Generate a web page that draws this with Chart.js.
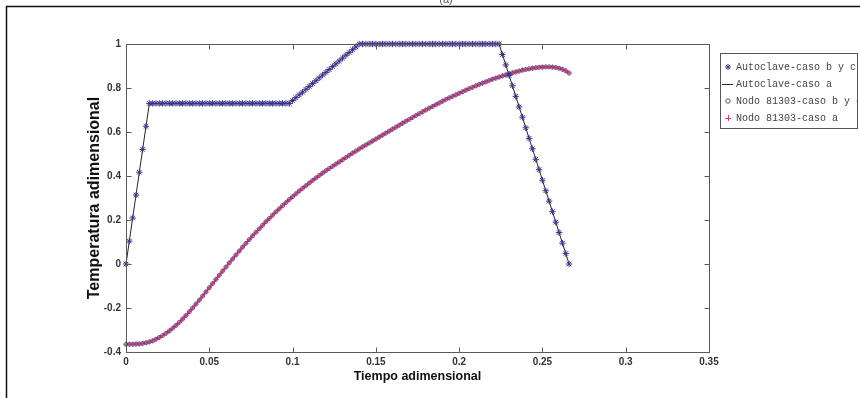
<!DOCTYPE html>
<html>
<head>
<meta charset="utf-8">
<script src="https://cdn.jsdelivr.net/npm/chart.js@4.4.1/dist/chart.umd.min.js"></script>
<style>
  html, body { margin: 0; padding: 0; background: #fff; }
  #wrap { width: 860px; height: 398px; position: relative; }
</style>
</head>
<body>
<div id="wrap"><canvas id="c" width="860" height="398"></canvas></div>
<script>
// Dimensionless time of each sample
const timeSteps = [
  0, 0.002, 0.004, 0.006, 0.008, 0.01, 0.012, 0.014, 0.016, 0.018,
  0.02, 0.022, 0.024, 0.026, 0.028, 0.03, 0.032, 0.034, 0.036, 0.038,
  0.04, 0.042, 0.044, 0.046, 0.048, 0.05, 0.052, 0.054, 0.056, 0.058,
  0.06, 0.062, 0.064, 0.066, 0.068, 0.07, 0.072, 0.074, 0.076, 0.078,
  0.08, 0.082, 0.084, 0.086, 0.088, 0.09, 0.092, 0.094, 0.096, 0.098,
  0.1, 0.102, 0.104, 0.106, 0.108, 0.11, 0.112, 0.114, 0.116, 0.118,
  0.12, 0.122, 0.124, 0.126, 0.128, 0.13, 0.132, 0.134, 0.136, 0.138,
  0.14, 0.142, 0.144, 0.146, 0.148, 0.15, 0.152, 0.154, 0.156, 0.158,
  0.16, 0.162, 0.164, 0.166, 0.168, 0.17, 0.172, 0.174, 0.176, 0.178,
  0.18, 0.182, 0.184, 0.186, 0.188, 0.19, 0.192, 0.194, 0.196, 0.198,
  0.2, 0.202, 0.204, 0.206, 0.208, 0.21, 0.212, 0.214, 0.216, 0.218,
  0.22, 0.222, 0.224, 0.226, 0.228, 0.23, 0.232, 0.234, 0.236, 0.238,
  0.24, 0.242, 0.244, 0.246, 0.248, 0.25, 0.252, 0.254, 0.256, 0.258,
  0.26, 0.262, 0.264, 0.266
];

// Autoclave (imposed) dimensionless temperature
const autoclaveTemp = [
  0, 0.104, 0.209, 0.313, 0.417, 0.521, 0.626, 0.73, 0.73, 0.73,
  0.73, 0.73, 0.73, 0.73, 0.73, 0.73, 0.73, 0.73, 0.73, 0.73,
  0.73, 0.73, 0.73, 0.73, 0.73, 0.73, 0.73, 0.73, 0.73, 0.73,
  0.73, 0.73, 0.73, 0.73, 0.73, 0.73, 0.73, 0.73, 0.73, 0.73,
  0.73, 0.73, 0.73, 0.73, 0.73, 0.73, 0.73, 0.73, 0.73, 0.73,
  0.743, 0.756, 0.769, 0.781, 0.794, 0.807, 0.82, 0.833, 0.846, 0.859,
  0.871, 0.884, 0.897, 0.91, 0.923, 0.936, 0.949, 0.961, 0.974, 0.987,
  1, 1, 1, 1, 1, 1, 1, 1, 1, 1,
  1, 1, 1, 1, 1, 1, 1, 1, 1, 1,
  1, 1, 1, 1, 1, 1, 1, 1, 1, 1,
  1, 1, 1, 1, 1, 1, 1, 1, 1, 1,
  1, 1, 1, 0.952, 0.905, 0.857, 0.81, 0.762, 0.714, 0.667,
  0.619, 0.571, 0.524, 0.476, 0.429, 0.381, 0.333, 0.286, 0.238, 0.19,
  0.143, 0.095, 0.048, 0
];

// Dimensionless temperature at node 81303
const nodoTemp = [
  -0.365, -0.365, -0.365, -0.364, -0.363, -0.361, -0.358, -0.354, -0.349, -0.342,
  -0.334, -0.325, -0.315, -0.304, -0.292, -0.279, -0.265, -0.25, -0.234, -0.217,
  -0.2, -0.182, -0.164, -0.146, -0.127, -0.108, -0.089, -0.07, -0.051, -0.032,
  -0.014, 0.005, 0.023, 0.041, 0.059, 0.077, 0.094, 0.111, 0.128, 0.144,
  0.16, 0.176, 0.192, 0.207, 0.222, 0.237, 0.251, 0.265, 0.279, 0.293,
  0.306, 0.319, 0.332, 0.344, 0.356, 0.368, 0.38, 0.391, 0.402, 0.413,
  0.424, 0.434, 0.444, 0.454, 0.464, 0.474, 0.484, 0.494, 0.504, 0.513,
  0.523, 0.532, 0.541, 0.55, 0.559, 0.568, 0.577, 0.586, 0.595, 0.604,
  0.613, 0.622, 0.631, 0.64, 0.649, 0.657, 0.666, 0.675, 0.683, 0.692,
  0.7, 0.708, 0.716, 0.724, 0.732, 0.74, 0.748, 0.755, 0.762, 0.769,
  0.776, 0.783, 0.79, 0.797, 0.803, 0.81, 0.816, 0.822, 0.828, 0.834,
  0.84, 0.845, 0.85, 0.855, 0.86, 0.865, 0.869, 0.873, 0.877, 0.881,
  0.884, 0.887, 0.89, 0.892, 0.894, 0.895, 0.896, 0.896, 0.895, 0.893,
  0.89, 0.885, 0.878, 0.868
];

const seriesNames = [
  'Autoclave-caso b y c',
  'Autoclave-caso a',
  'Nodo 81303-caso b y c',
  'Nodo 81303-caso a'
];

const xTickLabels = ['0', '0.05', '0.1', '0.15', '0.2', '0.25', '0.3', '0.35'];
const yTickLabels = ['-0.4', '-0.2', '0', '0.2', '0.4', '0.6', '0.8', '1'];

const toPoints = arr => timeSteps.map((t, i) => ({ x: t, y: arr[i] }));

const STAR = '#3b338c';
const LINE = '#262626';
const RING = '#5c4a78';
const PINK = '#d2387f';

// Marker glyphs used in the legend
function legendMarker(ctx, kind, x, y) {
  ctx.save();
  ctx.lineWidth = 1;
  if (kind === 'star') {
    ctx.strokeStyle = STAR;
    ctx.beginPath();
    for (let k = 0; k < 4; k++) {
      const a = k * Math.PI / 4;
      ctx.moveTo(x - 3 * Math.cos(a), y - 3 * Math.sin(a));
      ctx.lineTo(x + 3 * Math.cos(a), y + 3 * Math.sin(a));
    }
    ctx.stroke();
  } else if (kind === 'line') {
    ctx.strokeStyle = LINE;
    ctx.beginPath();
    ctx.moveTo(x - 6, y + 0.5);
    ctx.lineTo(x + 5, y + 0.5);
    ctx.stroke();
  } else if (kind === 'circle') {
    ctx.strokeStyle = RING;
    ctx.beginPath();
    ctx.arc(x, y, 2.2, 0, Math.PI * 2);
    ctx.stroke();
  } else if (kind === 'cross') {
    ctx.strokeStyle = PINK;
    ctx.beginPath();
    ctx.moveTo(x - 3, y + 0.5); ctx.lineTo(x + 3, y + 0.5);
    ctx.moveTo(x + 0.5, y - 3); ctx.lineTo(x + 0.5, y + 3);
    ctx.stroke();
  }
  ctx.restore();
}

// Figure frame, axes box with inward ticks, and the legend box
const matlabAxes = {
  id: 'matlabAxes',
  beforeDraw(chart) {
    const ctx = chart.ctx;
    ctx.save();
    ctx.fillStyle = '#fff';
    ctx.fillRect(0, 0, chart.width, chart.height);
    ctx.fillStyle = '#555';
    ctx.font = '11px "Liberation Sans", Arial, sans-serif';
    ctx.textAlign = 'center';
    ctx.textBaseline = 'alphabetic';
    ctx.fillText('(a)', 446, 3);
    ctx.strokeStyle = '#111';
    ctx.lineWidth = 1.5;
    ctx.beginPath();
    ctx.moveTo(6.5, chart.height);
    ctx.lineTo(6.5, 6.5);
    ctx.lineTo(chart.width, 6.5);
    ctx.stroke();
    ctx.restore();
  },
  afterDatasetsDraw(chart) {
    const { ctx, chartArea: a, scales } = chart;
    ctx.save();
    ctx.strokeStyle = '#5a5a5a';
    ctx.lineWidth = 1;
    const L = Math.round(a.left) + 0.5, R = Math.round(a.right) + 0.5;
    const T = Math.round(a.top) + 0.5, B = Math.round(a.bottom) + 0.5;
    ctx.strokeRect(L, T, R - L, B - T);
    ctx.beginPath();
    scales.x.ticks.forEach(t => {
      const px = Math.round(scales.x.getPixelForValue(t.value)) + 0.5;
      ctx.moveTo(px, B); ctx.lineTo(px, B - 5);
      ctx.moveTo(px, T); ctx.lineTo(px, T + 5);
    });
    scales.y.ticks.forEach(t => {
      const py = Math.round(scales.y.getPixelForValue(t.value)) + 0.5;
      ctx.moveTo(L, py); ctx.lineTo(L + 5, py);
      ctx.moveTo(R, py); ctx.lineTo(R - 5, py);
    });
    ctx.stroke();
    ctx.restore();
  },
  afterDraw(chart) {
    const ctx = chart.ctx;
    const box = { x: 720.5, y: 53.5, w: 137, h: 75 };
    ctx.save();
    ctx.fillStyle = '#fff';
    ctx.fillRect(box.x, box.y, box.w, box.h);
    ctx.strokeStyle = '#555';
    ctx.lineWidth = 1;
    ctx.strokeRect(box.x, box.y, box.w, box.h);
    const kinds = ['star', 'line', 'circle', 'cross'];
    const rows = [67, 84, 101, 118];
    chart.data.datasets.forEach((ds, i) => {
      legendMarker(ctx, kinds[i], 728, rows[i]);
    });
    ctx.beginPath();
    ctx.rect(box.x + 1, box.y + 1, box.w - 2, box.h - 2);
    ctx.clip();
    ctx.fillStyle = '#444';
    ctx.font = '10px "Liberation Mono", "DejaVu Sans Mono", monospace';
    ctx.textAlign = 'left';
    ctx.textBaseline = 'middle';
    chart.data.datasets.forEach((ds, i) => {
      ctx.fillText(ds.label, 736, rows[i] + 0.5);
    });
    ctx.restore();
  }
};

new Chart(document.getElementById('c'), {
  type: 'scatter',
  data: {
    datasets: [
      {
        label: seriesNames[0],
        data: toPoints(autoclaveTemp),
        showLine: false,
        pointStyle: 'star',
        pointRadius: 3.2,
        pointBorderWidth: 1,
        pointBorderColor: STAR,
        pointBackgroundColor: STAR,
        clip: false
      },
      {
        label: seriesNames[1],
        data: toPoints(autoclaveTemp),
        showLine: true,
        borderColor: LINE,
        borderWidth: 1,
        pointRadius: 0,
        clip: false
      },
      {
        label: seriesNames[2],
        data: toPoints(nodoTemp),
        showLine: false,
        pointStyle: 'circle',
        pointRadius: 2,
        pointBorderWidth: 0.8,
        pointBorderColor: RING,
        pointBackgroundColor: 'rgba(0,0,0,0)',
        clip: false
      },
      {
        label: seriesNames[3],
        data: toPoints(nodoTemp),
        showLine: true,
        borderColor: PINK,
        borderWidth: 2,
        pointStyle: 'cross',
        pointRadius: 2.5,
        pointBorderWidth: 1,
        pointBorderColor: PINK,
        clip: false
      }
    ]
  },
  options: {
    responsive: false,
    animation: false,
    devicePixelRatio: 1,
    layout: { padding: { left: 0, top: 44, right: 151, bottom: 0 } },
    plugins: { legend: { display: false }, tooltip: { enabled: false } },
    scales: {
      x: {
        type: 'linear',
        min: 0,
        max: 0.35,
        grid: { display: false, drawTicks: false },
        border: { display: false },
        ticks: {
          stepSize: 0.05,
          padding: 4,
          color: '#333',
          font: { family: '"Liberation Sans", Arial, sans-serif', size: 10, weight: 'bold' },
          callback: (v, i) => xTickLabels[i]
        },
        title: {
          display: true,
          text: 'Tiempo adimensional',
          color: '#111',
          font: { family: '"Liberation Sans", Arial, sans-serif', size: 12.5, weight: 'bold' },
          padding: { top: 0, bottom: 14 }
        },
        afterFit(s) { s.height = 46; }
      },
      y: {
        type: 'linear',
        min: -0.4,
        max: 1,
        grid: { display: false, drawTicks: false },
        border: { display: false },
        ticks: {
          stepSize: 0.2,
          padding: 5,
          color: '#333',
          font: { family: '"Liberation Sans", Arial, sans-serif', size: 10, weight: 'bold' },
          callback: (v, i) => yTickLabels[i]
        },
        title: {
          display: true,
          text: 'Temperatura adimensional',
          color: '#111',
          font: { family: '"Liberation Sans", Arial, sans-serif', size: 16, weight: 'bold' },
          padding: { top: 85, bottom: 0 }
        },
        afterFit(s) { s.width = 126; }
      }
    }
  },
  plugins: [matlabAxes]
});
</script>
</body>
</html>
